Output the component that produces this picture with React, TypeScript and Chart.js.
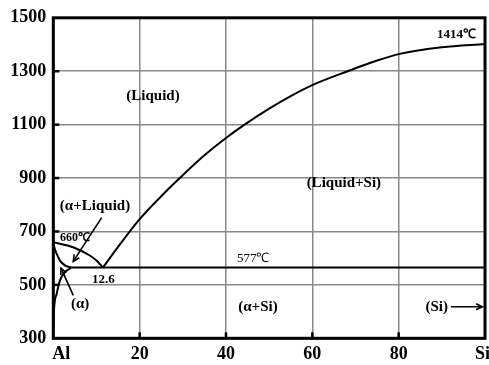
import React, { useEffect, useRef } from 'react';
import { Chart, registerables } from 'chart.js';
Chart.register(...registerables);

const SERIF = '"Liberation Serif", "Times New Roman", serif';

// Axis ticks
const xTickValues = [0, 20, 40, 60, 80, 100];
const xTickLabels = ['Al', '20', '40', '60', '80', 'Si'];
const yMin = 300;
const yMax = 1500;
const yStep = 200;

// Phase boundaries (wt% Si, °C)
const liquidusLeftX = [0, 4.6, 8.45, 10, 11.5];
const liquidusLeftY = [660, 641, 610, 591, 565];
const liquidusRightX = [11.5, 15, 20, 25, 29.3, 35, 40, 44.3, 50, 55, 60, 68.2, 75, 80, 90, 100];
const liquidusRightY = [565, 642, 746, 832, 900, 985, 1050, 1100, 1160, 1207, 1248, 1300, 1340, 1364, 1390, 1402];
const solidusX = [0, 0.25, 0.8, 1.55, 2.7, 4.2];
const solidusY = [660, 640, 616, 591, 573, 565];
const solvusX = [0, 0.05, 0.16, 0.79, 1.55, 2.71, 4.2];
const solvusY = [300, 350, 405, 467, 517, 548, 565];
const eutecticX = [4.2, 100];
const eutecticY = [565, 565];

// Region labels
const regionLabels = ['(Liquid)', '(Liquid+Si)', '(α+Liquid)', '(α+Si)', '(Si)', '(α)'];
const regionLabelX = [23.1, 67.3, 9.66, 47.4, 88.8, 6.2];
const regionLabelY = [1205, 881, 796, 418, 418, 428];

// Point notes
const noteTexts = ['660℃', '12.6', '577℃', '1414℃'];
const noteX = [1.55, 11.6, 46.3, 93.4];
const noteY = [677, 521, 598, 1438];
const noteAlign = ['left', 'center', 'center', 'center'];
const noteBold = [true, true, false, true];
const noteSize = [12, 13, 13, 13];

// Arrows
const arrowFromX = [11.2, 4.63, 92.1];
const arrowFromY = [752, 461, 418];
const arrowToX = [4.63, 1.78, 99.4];
const arrowToY = [588, 563, 418];

const pts = (xs: number[], ys: number[]) => xs.map((x, i) => ({ x, y: ys[i] }));

const line = (xs: number[], ys: number[]) => ({
  data: pts(xs, ys),
  borderColor: '#000',
  borderWidth: 2,
  pointRadius: 0,
  fill: false,
  cubicInterpolationMode: 'monotone' as const,
});

const decorPlugin = {
  id: 'decor',
  afterDatasetsDraw(chart: any) {
    const { ctx, chartArea, scales } = chart;
    const xs = scales.x;
    const ys = scales.y;
    ctx.save();
    // frame
    ctx.strokeStyle = '#000';
    ctx.lineWidth = 3;
    ctx.strokeRect(chartArea.left, chartArea.top, chartArea.right - chartArea.left, chartArea.bottom - chartArea.top);
    // inward ticks
    ctx.lineWidth = 2.5;
    for (let v = yMin + yStep; v < yMax; v += yStep) {
      const py = ys.getPixelForValue(v);
      ctx.beginPath();
      ctx.moveTo(chartArea.left, py);
      ctx.lineTo(chartArea.left + 6, py);
      ctx.stroke();
    }
    xTickValues.slice(1, -1).forEach((v) => {
      const px = xs.getPixelForValue(v);
      ctx.beginPath();
      ctx.moveTo(px, chartArea.bottom);
      ctx.lineTo(px, chartArea.bottom - 6);
      ctx.stroke();
    });
    // x tick labels
    ctx.fillStyle = '#000';
    ctx.font = `bold 18px ${SERIF}`;
    ctx.textBaseline = 'middle';
    xTickValues.forEach((v, i) => {
      const px = xs.getPixelForValue(v);
      if (i === 0) {
        ctx.textAlign = 'left';
        ctx.fillText(xTickLabels[i], px - 1, chartArea.bottom + 16);
      } else if (i === xTickValues.length - 1) {
        ctx.textAlign = 'center';
        ctx.fillText(xTickLabels[i], px - 2.5, chartArea.bottom + 16);
      } else {
        ctx.textAlign = 'center';
        ctx.fillText(xTickLabels[i], px, chartArea.bottom + 16);
      }
    });
    // region labels
    ctx.font = `bold 15px ${SERIF}`;
    ctx.textAlign = 'center';
    regionLabels.forEach((t, i) => {
      ctx.fillText(t, xs.getPixelForValue(regionLabelX[i]), ys.getPixelForValue(regionLabelY[i]));
    });
    // notes
    noteTexts.forEach((t, i) => {
      ctx.font = `${noteBold[i] ? 'bold ' : ''}${noteSize[i]}px ${SERIF}`;
      ctx.textAlign = noteAlign[i] as CanvasTextAlign;
      ctx.fillText(t, xs.getPixelForValue(noteX[i]), ys.getPixelForValue(noteY[i]));
    });
    // arrows
    ctx.lineWidth = 1.6;
    arrowFromX.forEach((_, i) => {
      const x1 = xs.getPixelForValue(arrowFromX[i]);
      const y1 = ys.getPixelForValue(arrowFromY[i]);
      const x2 = xs.getPixelForValue(arrowToX[i]);
      const y2 = ys.getPixelForValue(arrowToY[i]);
      const a = Math.atan2(y2 - y1, x2 - x1);
      ctx.beginPath();
      ctx.moveTo(x1, y1);
      ctx.lineTo(x2, y2);
      ctx.stroke();
      const h = 7;
      ctx.beginPath();
      ctx.moveTo(x2 - h * Math.cos(a - 0.45), y2 - h * Math.sin(a - 0.45));
      ctx.lineTo(x2, y2);
      ctx.lineTo(x2 - h * Math.cos(a + 0.45), y2 - h * Math.sin(a + 0.45));
      ctx.stroke();
    });
    ctx.restore();
  },
};

export default function App() {
  const ref = useRef<HTMLCanvasElement>(null);
  useEffect(() => {
    if (!ref.current) return;
    const chart = new Chart(ref.current, {
      type: 'line',
      data: {
        datasets: [
          line(liquidusLeftX, liquidusLeftY),
          line(liquidusRightX, liquidusRightY),
          line(solidusX, solidusY),
          line(solvusX, solvusY),
          { ...line(eutecticX, eutecticY), cubicInterpolationMode: 'default' as const },
        ],
      },
      options: {
        responsive: false,
        animation: false,
        events: [],
        layout: { padding: { top: 15.7, right: 4, left: 0, bottom: 0 } },
        plugins: { legend: { display: false }, tooltip: { enabled: false } },
        scales: {
          x: {
            type: 'linear',
            min: 0,
            max: 100,
            border: { display: false },
            grid: { color: '#888', lineWidth: 1.5, drawTicks: false },
            ticks: { stepSize: 20, display: false },
            afterFit: (s: any) => {
              s.height = 26.7;
            },
          },
          y: {
            type: 'linear',
            min: yMin,
            max: yMax,
            border: { display: false },
            grid: { color: '#888', lineWidth: 1.5, drawTicks: false },
            ticks: {
              stepSize: yStep,
              padding: 7,
              color: '#000',
              font: { family: SERIF, size: 18, weight: 'bold' },
              callback: (v: any) => String(v),
            },
            afterFit: (s: any) => {
              s.width = 53.3;
            },
          },
        },
      },
      plugins: [decorPlugin],
    });
    return () => chart.destroy();
  }, []);
  return (
    <div style={{ position: 'absolute', left: 0, top: 0, width: 489, height: 365, background: '#fff' }}>
      <canvas ref={ref} width={489} height={365} style={{ width: 489, height: 365 }} />
    </div>
  );
}
